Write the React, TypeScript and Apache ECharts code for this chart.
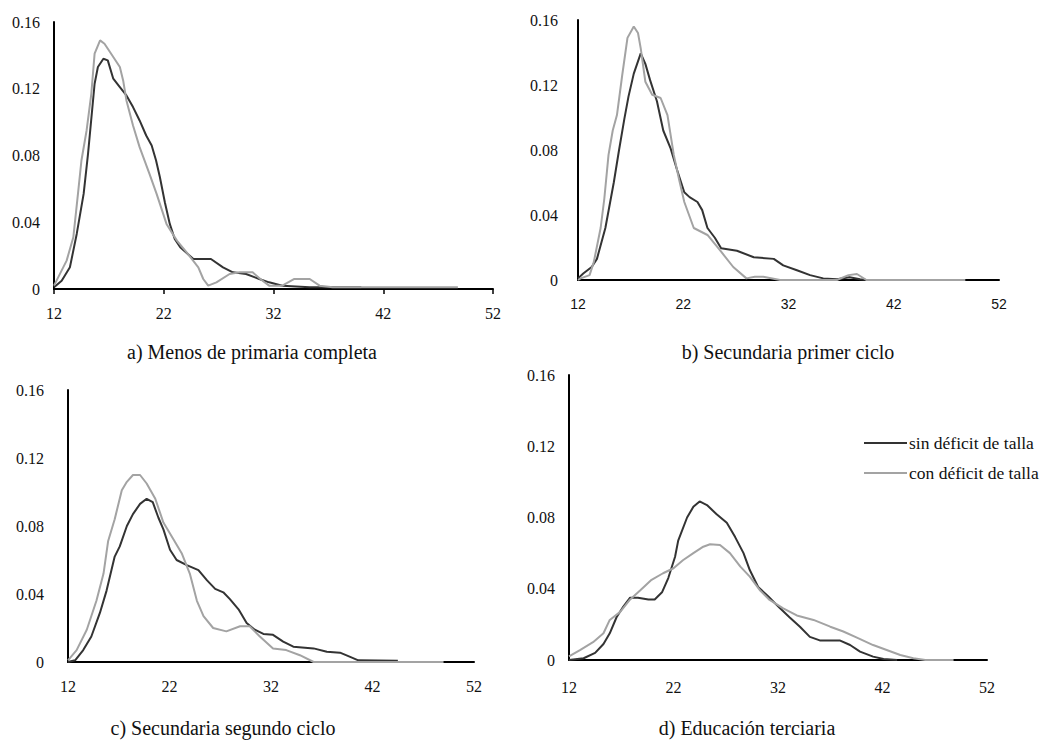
import React, { useEffect, useRef } from "react";
import * as echarts from "echarts";

const xTicks = [12, 22, 32, 42, 52];
const yTicks = [0, 0.04, 0.08, 0.12, 0.16];
const seriesNames = ["sin déficit de talla", "con déficit de talla"];
const captions = [
  "a) Menos de primaria completa",
  "b) Secundaria primer ciclo",
  "c) Secundaria segundo ciclo",
  "d) Educación terciaria",
];

const aSin = [[12,0.001],[12.7,0.005],[13.45,0.013],[14.07,0.033],[14.7,0.057],[15.1,0.081],[15.7,0.123],[16,0.133],[16.5,0.138],[16.9,0.137],[17.4,0.126],[18,0.121],[18.6,0.116],[19.2,0.109],[19.8,0.101],[20.4,0.092],[20.9,0.086],[21.3,0.077],[21.65,0.067],[22.1,0.052],[22.55,0.039],[23.0,0.030],[23.5,0.025],[24.7,0.018],[26.3,0.018],[27.4,0.013],[28.3,0.010],[29.5,0.009],[30.7,0.006],[31.6,0.004],[32.8,0.002],[35.3,0.001],[37.4,0.001],[40,0.001]];
const aCon = [[12,0.002],[13.15,0.017],[13.76,0.031],[14.2,0.058],[14.5,0.077],[14.97,0.095],[15.4,0.117],[15.7,0.141],[16.2,0.149],[16.6,0.147],[17.1,0.142],[18,0.133],[18.3,0.125],[18.6,0.113],[19.2,0.098],[19.8,0.085],[20.7,0.069],[21.35,0.057],[22.25,0.039],[23.2,0.029],[24.2,0.021],[25.15,0.013],[25.6,0.006],[26.05,0.002],[26.8,0.004],[28,0.009],[28.9,0.010],[30.1,0.010],[30.8,0.006],[31.6,0.002],[32.8,0.002],[33.9,0.006],[35.3,0.006],[36.2,0.002],[37.4,0.001],[48.8,0.001]];

const bSin = [[12,0.001],[12.5,0.004],[13.3,0.008],[13.8,0.013],[14.6,0.032],[15.4,0.060],[15.9,0.080],[16.4,0.099],[16.8,0.113],[17.3,0.127],[17.96,0.1395],[18.4,0.133],[18.85,0.123],[19.5,0.110],[20.1,0.092],[20.8,0.081],[21.4,0.068],[22.1,0.054],[22.6,0.051],[23.35,0.048],[23.8,0.043],[24.3,0.032],[25.0,0.026],[25.6,0.0195],[27.1,0.018],[28.7,0.014],[30.6,0.013],[31.5,0.009],[32.8,0.006],[34.05,0.003],[35.3,0.001],[36.6,0.0005],[37.8,0.0017],[38.8,0.0005],[39.4,0]];
const bCon = [[12,0],[12.25,0.001],[13.1,0.003],[13.5,0.011],[14.15,0.032],[14.5,0.050],[14.9,0.077],[15.3,0.092],[15.7,0.1015],[16.2,0.126],[16.7,0.149],[17.3,0.156],[17.7,0.152],[17.96,0.1425],[18.4,0.122],[19.05,0.114],[19.85,0.112],[20.5,0.1015],[21.1,0.077],[21.6,0.062],[22.1,0.048],[23.0,0.032],[24.3,0.0277],[25.6,0.0174],[26.75,0.008],[28,0.001],[28.8,0.002],[29.6,0.002],[31.2,0],[36.6,0],[37.7,0.003],[38.5,0.0037],[39.4,0],[48.8,0]];

const cSin = [[12,0],[12.7,0.001],[13.5,0.007],[14.3,0.015],[15.15,0.029],[15.8,0.042],[16.6,0.062],[17.1,0.068],[17.8,0.080],[18.4,0.087],[19.1,0.093],[19.75,0.096],[20.35,0.094],[20.9,0.085],[21.4,0.078],[22.05,0.066],[22.7,0.060],[23.7,0.057],[24.85,0.054],[25.7,0.048],[26.5,0.043],[27.3,0.041],[27.95,0.037],[28.8,0.031],[29.6,0.023],[30.4,0.019],[31.25,0.0165],[32.2,0.016],[33.2,0.012],[34.2,0.009],[36.2,0.008],[37.5,0.006],[38.8,0.0055],[39.8,0.003],[40.6,0.001],[44.5,0.0008]];
const cCon = [[12,0.001],[12.85,0.007],[13.85,0.019],[14.8,0.036],[15.5,0.052],[15.95,0.071],[16.6,0.084],[17.3,0.101],[17.8,0.106],[18.4,0.110],[19.1,0.110],[19.75,0.105],[20.6,0.096],[21.4,0.082],[22.4,0.072],[23.2,0.064],[24.0,0.052],[24.7,0.036],[25.35,0.027],[26.3,0.020],[27.6,0.018],[28.95,0.021],[29.9,0.021],[30.9,0.015],[32.2,0.008],[33.5,0.007],[34.85,0.004],[36.2,0],[49,0]];

const dSin = [[12,0],[13.4,0.001],[14.5,0.004],[15.3,0.009],[15.9,0.015],[16.55,0.024],[17.2,0.030],[17.85,0.035],[18.6,0.035],[19.6,0.034],[20.2,0.034],[20.9,0.038],[21.5,0.046],[22.15,0.058],[22.45,0.067],[23.3,0.080],[23.9,0.086],[24.5,0.089],[25.2,0.087],[26.1,0.082],[27.1,0.077],[27.9,0.069],[28.7,0.060],[29.3,0.0505],[30.1,0.041],[31.1,0.0355],[32.2,0.029],[33.1,0.024],[34.1,0.0187],[35.05,0.013],[36.0,0.011],[37.9,0.011],[38.9,0.0084],[39.85,0.0047],[41.1,0.0019],[42.1,0.0006],[43.4,0]];
const dCon = [[12,0.002],[13.05,0.0056],[14.3,0.010],[15.3,0.015],[15.9,0.0225],[16.9,0.027],[17.85,0.034],[18.8,0.039],[19.9,0.045],[21.0,0.0487],[22.0,0.0515],[22.9,0.056],[23.9,0.060],[24.85,0.0636],[25.5,0.065],[26.45,0.0646],[27.4,0.060],[28.4,0.0524],[29.3,0.0468],[30.3,0.039],[31.2,0.0337],[32.5,0.029],[33.8,0.025],[35.4,0.0225],[37.0,0.0187],[38.25,0.016],[39.5,0.0127],[41.1,0.0084],[42.4,0.0056],[43.7,0.0028],[44.95,0.001],[46.1,0],[48.8,0]];

const panelSin = [aSin, bSin, cSin, dSin];
const panelCon = [aCon, bCon, cCon, dCon];

const SERIF = "Liberation Serif";
const SANS = "Liberation Sans";
const BLACK = "#333333";
const GRAY = "#a3a3a3";

const layouts = [
  { left: 54, top: 22, width: 439, height: 267, yMargin: 14, xMargin: 16, xFont: SERIF, ticks: true, capX: 252, capY: 352 },
  { left: 578, top: 20, width: 421, height: 260, yMargin: 20, xMargin: 17, xFont: SANS, ticks: false, capX: 788, capY: 352 },
  { left: 68, top: 390, width: 406, height: 272, yMargin: 24, xMargin: 16, xFont: SERIF, ticks: false, capX: 223, capY: 728 },
  { left: 569, top: 375, width: 418, height: 285, yMargin: 14, xMargin: 19, xFont: SERIF, ticks: false, capX: 747, capY: 728 },
];

export default function App() {
  const ref = useRef<HTMLDivElement>(null);
  useEffect(() => {
    document.body.style.margin = "0";
    const chart = echarts.init(ref.current!, null, { renderer: "svg" });
    const grid = layouts.map((l) => ({ left: l.left, top: l.top, width: l.width, height: l.height, containLabel: false }));
    const xAxis = layouts.map((l, i) => ({
      type: "value",
      gridIndex: i,
      min: 12,
      max: 52,
      splitLine: { show: false },
      axisLine: { show: true, onZero: false, lineStyle: { color: "#000", width: 2 } },
      axisTick: { show: l.ticks, customValues: xTicks, length: 5, lineStyle: { color: "#000", width: 1.5 } },
      axisLabel: {
        customValues: xTicks,
        margin: l.xMargin,
        fontFamily: l.xFont,
        fontSize: l.xFont === SANS ? 14 : 16,
        color: "#111",
      },
    }));
    const yAxis = layouts.map((l, i) => ({
      type: "value",
      gridIndex: i,
      min: 0,
      max: 0.16,
      splitLine: { show: false },
      axisLine: { show: true, lineStyle: { color: "#000", width: 2 } },
      axisTick: { show: false },
      axisLabel: {
        customValues: yTicks,
        margin: l.yMargin,
        fontFamily: SERIF,
        fontSize: 16,
        color: "#111",
        formatter: (v: number) => (v === 0 ? "0" : v.toFixed(2)),
      },
    }));
    const series: any[] = [];
    layouts.forEach((_, i) => {
      series.push({
        name: seriesNames[0],
        type: "line",
        xAxisIndex: i,
        yAxisIndex: i,
        data: panelSin[i],
        showSymbol: false,
        symbol: "none",
        lineStyle: { color: BLACK, width: 2 },
        itemStyle: { color: BLACK },
      });
      series.push({
        name: seriesNames[1],
        type: "line",
        xAxisIndex: i,
        yAxisIndex: i,
        data: panelCon[i],
        showSymbol: false,
        symbol: "none",
        lineStyle: { color: GRAY, width: 2 },
        itemStyle: { color: GRAY },
      });
    });
    chart.setOption({
      animation: false,
      backgroundColor: "#fff",
      grid,
      xAxis,
      yAxis,
      series,
      legend: {
        data: [
          { name: seriesNames[0], icon: "rect" },
          { name: seriesNames[1], icon: "rect" },
        ],
        orient: "vertical",
        left: 864,
        top: 434,
        itemWidth: 43,
        itemHeight: 2,
        itemGap: 12,
        padding: 0,
        selectedMode: false,
        textStyle: { fontFamily: SERIF, fontSize: 17.5, color: "#111", padding: [0, 0, 0, -3] },
      },
      graphic: layouts.map((l, i) => ({
        type: "text",
        x: l.capX,
        y: l.capY,
        style: {
          text: captions[i],
          fontFamily: SERIF,
          fontSize: 20,
          fill: "#111",
          textAlign: "center",
          textVerticalAlign: "middle",
        },
      })),
    });
    return () => chart.dispose();
  }, []);
  return <div ref={ref} style={{ width: 1046, height: 740 }} />;
}
